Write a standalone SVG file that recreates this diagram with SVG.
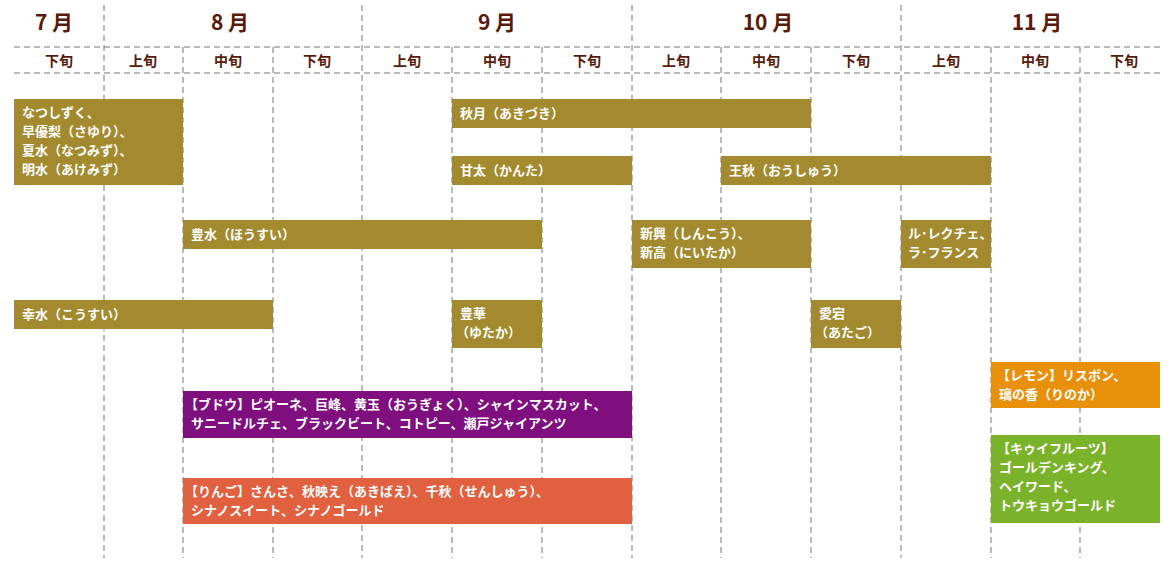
<svg xmlns="http://www.w3.org/2000/svg" width="1171" height="563" viewBox="0 0 1171 563">
<style>
.g{stroke:#777;stroke-width:1;stroke-dasharray:6,4;fill:none}
.m{font-family:"Noto Sans CJK JP","Liberation Sans",sans-serif;font-weight:bold;font-size:21px;fill:#5a1a0a;text-anchor:middle}
.s{font-family:"Noto Sans CJK JP","Liberation Sans",sans-serif;font-weight:bold;font-size:14px;fill:#5a1a0a;text-anchor:middle}
.t{font-family:"Noto Sans CJK JP","Liberation Sans",sans-serif;font-weight:bold;font-size:13px;fill:#fff}
.o{fill:#a38a2e}
</style>
<rect width="1171" height="563" fill="#fff"/>
<g id="grid">
<path class="g" d="M104 5V558M362 5V558M632 5V558M901 5V558M183 47V558M273 47V558M452 47V558M542 47V558M721 47V558M811 47V558M991 47V558M1080 47V558"/>
<path class="g" d="M14 47H1160M14 73H1160"/>
</g>
<g id="headers">
<text class="m" x="54" y="30">7 月</text>
<text class="m" x="230" y="30">8 月</text>
<text class="m" x="497" y="30">9 月</text>
<text class="m" x="768" y="30">10 月</text>
<text class="m" x="1037" y="30">11 月</text>
<text class="s" x="59" y="66">下旬</text>
<text class="s" x="143" y="66">上旬</text>
<text class="s" x="228" y="66">中旬</text>
<text class="s" x="317" y="66">下旬</text>
<text class="s" x="407" y="66">上旬</text>
<text class="s" x="497" y="66">中旬</text>
<text class="s" x="587" y="66">下旬</text>
<text class="s" x="676" y="66">上旬</text>
<text class="s" x="766" y="66">中旬</text>
<text class="s" x="856" y="66">下旬</text>
<text class="s" x="946" y="66">上旬</text>
<text class="s" x="1035" y="66">中旬</text>
<text class="s" x="1124" y="66">下旬</text>
</g>
<g id="n1"><rect class="o" x="14" y="99" width="169" height="86"/><text class="t" x="22" y="117">なつしずく、<tspan x="22" dy="19">早優梨（さゆり）、</tspan><tspan x="22" dy="19">夏水（なつみず）、</tspan><tspan x="22" dy="19">明水（あけみず）</tspan></text></g>
<g id="n2"><rect class="o" x="452" y="99" width="359" height="29"/><text class="t" x="460" y="118">秋月（あきづき）</text></g>
<g id="n3"><rect class="o" x="452" y="156" width="180" height="29"/><text class="t" x="460" y="175">甘太（かんた）</text></g>
<g id="n4"><rect class="o" x="721" y="156" width="270" height="29"/><text class="t" x="729" y="175">王秋（おうしゅう）</text></g>
<g id="n5"><rect class="o" x="183" y="220" width="359" height="29"/><text class="t" x="191" y="239">豊水（ほうすい）</text></g>
<g id="n6"><rect class="o" x="632" y="220" width="179" height="48"/><text class="t" x="640" y="238">新興（しんこう）、<tspan x="640" dy="19">新高（にいたか）</tspan></text></g>
<g id="n7"><rect class="o" x="901" y="220" width="90" height="48"/><text class="t" x="908" y="238">ル･レクチェ、<tspan x="908" dy="19">ラ･フランス</tspan></text></g>
<g id="n8"><rect class="o" x="14" y="300" width="259" height="29"/><text class="t" x="22" y="319">幸水（こうすい）</text></g>
<g id="n9"><rect class="o" x="452" y="300" width="90" height="48"/><text class="t" x="460" y="318">豊華<tspan x="456" dy="19">（ゆたか）</tspan></text></g>
<g id="n10"><rect class="o" x="811" y="300" width="90" height="48"/><text class="t" x="819" y="318">愛宕<tspan x="815" dy="19">（あたご）</tspan></text></g>
<g id="n11"><rect fill="#e8900a" x="991" y="362" width="169" height="46"/><text class="t" x="997" y="380">【レモン】リスボン、<tspan x="999" dy="19">璃の香（りのか）</tspan></text></g>
<g id="n12"><rect fill="#7ab32a" x="991" y="435" width="169" height="88"/><text class="t" x="997" y="453">【キゥイフルーツ】<tspan x="999" dy="19">ゴールデンキング、</tspan><tspan x="999" dy="19">ヘイワード、</tspan><tspan x="999" dy="19">トウキョウゴールド</tspan></text></g>
<g id="n13"><rect fill="#7f0f7f" x="183" y="391" width="449" height="47"/><text class="t" x="185" y="409">【ブドウ】ピオーネ、巨峰、黄玉（おうぎょく）、シャインマスカット、<tspan x="191" dy="19">サニードルチェ、ブラックビート、コトピー、瀬戸ジャイアンツ</tspan></text></g>
<g id="n14"><rect fill="#e06040" x="183" y="478" width="449" height="46"/><text class="t" x="185" y="496">【りんご】さんさ、秋映え（あきばえ）、千秋（せんしゅう）、<tspan x="191" dy="19">シナノスイート、シナノゴールド</tspan></text></g>
</svg>
